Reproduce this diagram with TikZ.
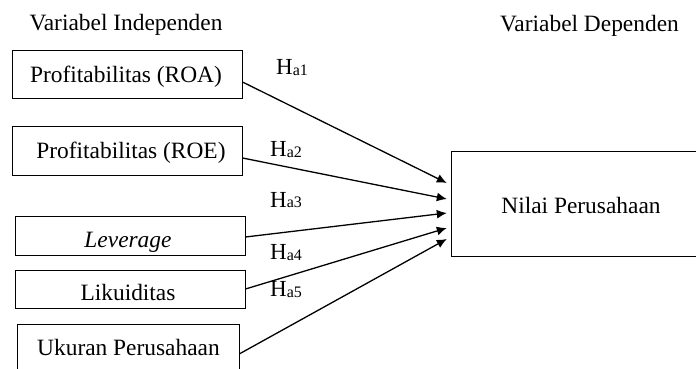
\documentclass[tikz,border=0pt]{standalone}
\usepackage{fontspec}
\setmainfont{Liberation Serif}
\usetikzlibrary{arrows.meta,calc}
\tikzset{
  box/.style={draw, line width=1pt, rectangle, inner sep=0pt},
  openbox/.style={rectangle, inner sep=0pt},
  sides/.style={line width=1pt},
  txt/.style={inner sep=0pt, anchor=base, font=\fontsize{23.4}{26}\selectfont},
  hyp/.style={inner sep=0pt, anchor=base west, font=\fontsize{23}{26}\selectfont},
  conn/.style={line width=1.3pt, -{Latex[length=10pt,width=9pt]}}
}
\newcommand{\hsub}[1]{H\raisebox{-1pt}{\fontsize{16}{16}\selectfont a#1}}
\begin{document}
\begin{tikzpicture}[x=1pt,y=-1pt]
\useasboundingbox (0,0) rectangle (697,369);
% boxes
\node[box, minimum width=230pt, minimum height=48pt] (roa) at (127,75) {};
\node[box, minimum width=230pt, minimum height=48pt] (roe) at (127,151) {};
\node[box, minimum width=230pt, minimum height=39pt] (lev) at (130,235.5) {};
\node[box, minimum width=230pt, minimum height=38pt] (lik) at (130,289) {};
\node[openbox, minimum width=221pt, minimum height=50pt] (uku) at (128.5,350) {};
\draw[sides] (uku.south west) -- (uku.north west) -- (uku.north east) -- (uku.south east);
\node[openbox, minimum width=244pt, minimum height=104pt] (nil) at (574,204) {};
\draw[sides] (nil.north east) -- (nil.north west) -- (nil.south west) -- (nil.south east);
% texts
\node[txt] (tind) at (126,31) {Variabel Independen};
\node[txt] (tdep) at (589.5,31.5) {Variabel Dependen};
\node[txt] (troa) at (126,82.5) {Profitabilitas (ROA)};
\node[txt] (troe) at (131,158) {Profitabilitas (ROE)};
\node[txt] (tlev) at (128,247) {\textit{Leverage}};
\node[txt] (tlik) at (128,300.5) {Likuiditas};
\node[txt] (tuku) at (128.5,355) {Ukuran Perusahaan};
\node[txt] (tnil) at (581,213) {Nilai Perusahaan};
% hypothesis labels
\node[hyp] (h1) at (276,75) {\hsub{1}};
\node[hyp] (h2) at (270,157) {\hsub{2}};
\node[hyp] (h3) at (270,207) {\hsub{3}};
\node[hyp] (h4) at (270,259) {\hsub{4}};
\node[hyp] (h5) at (270,296) {\hsub{5}};
% connectors
\draw[conn] ($(roa.east)+(0,7)$) -- ($(nil.west)+(-5,-21)$);
\draw[conn] ($(roe.east)+(0,7)$) -- ($(nil.west)+(-5,-5)$);
\draw[conn] ($(lev.east)+(0,1.5)$) -- ($(nil.west)+(-5,9)$);
\draw[conn] ($(lik.east)+(0,0)$) -- ($(nil.west)+(-5,24)$);
\draw[conn] ($(uku.east)+(0,4)$) -- ($(nil.west)+(-5,35)$);
\end{tikzpicture}
\end{document}
